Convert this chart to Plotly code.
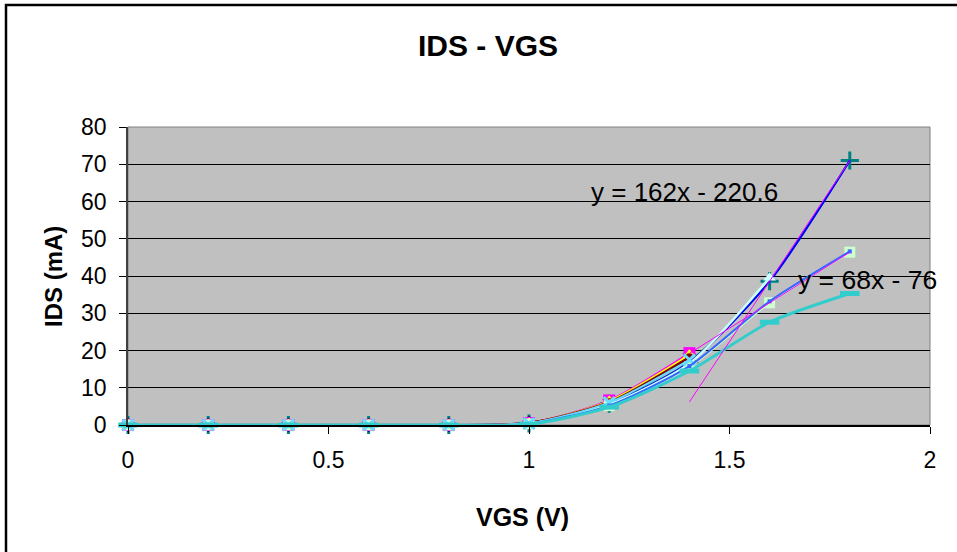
import plotly.graph_objects as go

# Gate voltage sweep (V)
vgs = [0.0, 0.2, 0.4, 0.6, 0.8, 1.0, 1.2, 1.4, 1.6, 1.8]

# Drain current (mA), one list per measured curve
ids_navy = [0, 0, 0, 0, 0, 0.6, 5.8, 17.8]
ids_magenta = [0, 0, 0, 0, 0, 0.5, 6.6, 19.3]
ids_yellow = [0, 0, 0, 0, 0, 0.5, 6.4, 18.8]
ids_cyan = [0, 0, 0, 0, 0, 0.4, 6.0, 17.5]
ids_purple = [0, 0, 0, 0, 0, 0.5, 6.2, 18.5]
ids_maroon = [0, 0, 0, 0, 0, 0.5, 6.1, 18.2]
ids_teal = [0, 0, 0, 0, 0, 0.4, 5.7, 17.0, 38.6, 71.0]
ids_blue = [0, 0, 0, 0, 0, 0.4, 5.6, 16.8, 38.6, 71.0]
ids_turq = [0, 0, 0, 0, 0, 0.4, 5.5, 16.5, 39.5]
ids_green = [0, 0, 0, 0, 0, 0.3, 5.2, 15.6, 32.8, 46.4]
ids_lblue = [0, 0, 0, 0, 0, 0.3, 5.2, 15.8, 33.2, 46.6]
ids_aqua = [0, 0, 0, 0, 0, 0.2, 4.8, 14.5, 27.6, 35.3]

# Linear fits shown on the chart: (slope, intercept, label)
fit_steep = (162.0, -220.6, "y = 162x - 220.6")
fit_flat = (68.0, -76.0, "y = 68x - 76")
fit_x = [1.4, 1.8]

x_ticks = [0, 0.5, 1, 1.5, 2]
y_ticks = [0, 10, 20, 30, 40, 50, 60, 70, 80]

W, H = 957, 552
L, R, T, B = 128, 930, 127, 425  # plot area in pixels


def px(x):
    return (x - L) / (R - L)


def py(y):
    return (B - y) / (B - T)


FONT = "Liberation Sans, Arial, sans-serif"

fig = go.Figure()


def curve(ys, color, symbol, size=10, width=2, mline=None, mcolor=None):
    marker = dict(symbol=symbol, size=size, color=mcolor or color)
    if mline is not None:
        marker["line"] = dict(color=mcolor or color, width=mline)
    fig.add_trace(go.Scatter(
        x=vgs[:len(ys)], y=ys, mode="lines+markers",
        line=dict(color=color, width=width, shape="spline", smoothing=0.7),
        marker=marker, showlegend=False, cliponaxis=False,
    ))


curve(ids_teal, "#008080", "cross-thin", 13, mline=3)
curve(ids_navy, "#000080", "diamond", 11)
curve(ids_purple, "#800080", "star", 11)
curve(ids_magenta, "#FF00FF", "square", 12)
curve(ids_yellow, "#FFFF00", "triangle-up", 12)
curve(ids_maroon, "#800000", "circle", 8, width=2.5)
curve(ids_blue, "#0000FF", "circle", 1)
curve(ids_turq, "#CCFFFF", "triangle-up", 11, width=2.5)
curve(ids_green, "#CCFFCC", "square", 11, width=2)
curve(ids_cyan, "#66DDFF", "x-thin", 11, mline=3)
curve(ids_lblue, "#3366FF", "square", 4, width=2)
curve(ids_aqua, "#33CCCC", "line-ew", 14, width=3, mline=5)

# Trend lines
for m, b, _ in (fit_steep, fit_flat):
    fig.add_trace(go.Scatter(
        x=fit_x, y=[m * v + b for v in fit_x], mode="lines",
        line=dict(color="#FF00FF", width=1), showlegend=False,
    ))

annotations = [
    dict(text="<b>IDS - VGS</b>", x=px(488), y=py(45), font=dict(size=30)),
    dict(text="<b>VGS (V)</b>", x=px(522), y=py(517), font=dict(size=25)),
    dict(text="<b>IDS (mA)</b>", x=px(53), y=py(277), font=dict(size=24),
         textangle=-90),
    dict(text=fit_steep[2], x=px(684), y=py(192), font=dict(size=26)),
    dict(text=fit_flat[2], x=px(867), y=py(280), font=dict(size=26.5)),
]
for a in annotations:
    a.update(xref="paper", yref="paper", showarrow=False,
             xanchor="center", yanchor="middle")
    a["font"].update(family=FONT, color="black")

shapes = [
    # chart frame
    dict(type="rect", xref="paper", yref="paper",
         x0=px(6), x1=px(962), y0=py(5), y1=py(560),
         line=dict(color="black", width=2.5), layer="below"),
    # plot area border
    dict(type="rect", xref="paper", yref="paper",
         x0=0, x1=1, y0=0, y1=1,
         line=dict(color="#808080", width=1), layer="below"),
]

fig.update_layout(
    width=W, height=H, autosize=False,
    margin=dict(l=L, r=W - R, t=T, b=H - B),
    paper_bgcolor="white", plot_bgcolor="#C0C0C0",
    font=dict(family=FONT, color="black", size=23),
    annotations=annotations, shapes=shapes,
)
fig.update_xaxes(
    range=[0, 2], tickvals=x_ticks, ticktext=[f"{v:g}" for v in x_ticks],
    showgrid=False, zeroline=False, showline=True, linecolor="black",
    linewidth=1.5, ticks="outside", ticklen=7, tickcolor="black",
    tickfont=dict(size=23), ticklabelstandoff=7,
)
fig.update_yaxes(
    range=[0, 80], tickvals=y_ticks, showgrid=True, gridcolor="black",
    gridwidth=1, zeroline=False, showline=True, linecolor="#404040",
    linewidth=1.5, ticks="outside", ticklen=7, tickcolor="black",
    tickfont=dict(size=23), ticklabelstandoff=8,
)

fig.write_html("out.html")
